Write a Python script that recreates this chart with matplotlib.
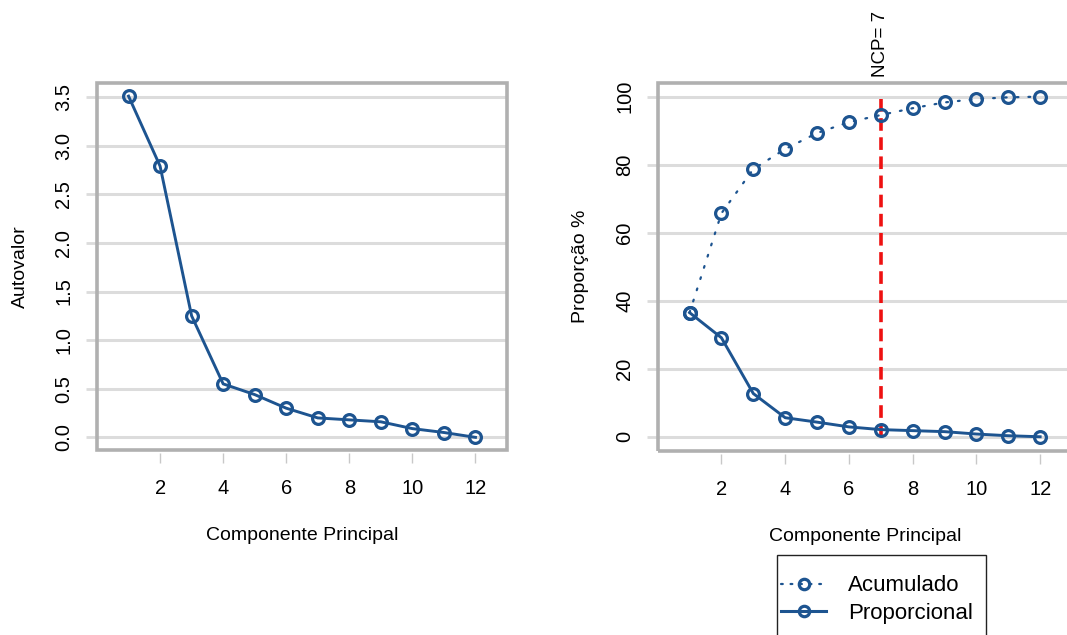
import matplotlib
matplotlib.use("Agg")
import matplotlib.pyplot as plt
from matplotlib.patches import Rectangle
from matplotlib.lines import Line2D

# ---- data ----
componentes = list(range(1, 13))
autovalores = [3.51, 2.79, 1.25, 0.55, 0.44, 0.30, 0.20, 0.18, 0.16, 0.09, 0.05, 0.0]
proporcional = [36.5, 29.1, 12.7, 5.6, 4.3, 2.9, 2.1, 1.8, 1.5, 0.8, 0.3, 0.0]
acumulado = [36.5, 65.7, 78.7, 84.6, 89.3, 92.5, 94.6, 96.6, 98.3, 99.3, 99.8, 100.0]
ncp = 7
xticks = [2, 4, 6, 8, 10, 12]
yticks_left = [0.0, 0.5, 1.0, 1.5, 2.0, 2.5, 3.0, 3.5]
yticks_right = [0, 20, 40, 60, 80, 100]

plt.rcParams['font.family'] = ['Liberation Sans', 'DejaVu Sans']

BLUE = '#1d5490'
GRID = '#dcdcdc'
BOX = '#b0b0b0'
W, H = 1067, 635

fig = plt.figure(figsize=(W / 100, H / 100), dpi=100)


def make_ax(x0, x1, y0, y1):
    return fig.add_axes([x0 / W, 1 - y1 / H, (x1 - x0) / W, (y1 - y0) / H])


def style(ax, yticks, ylim, ylabel, yfmt, lab_x):
    ax.set_xlim(0, 13)
    ax.set_ylim(*ylim)
    for s in ax.spines.values():
        s.set_visible(False)
    ax.spines['bottom'].set_position(('outward', 2.5))
    ax.add_patch(Rectangle((0, 0), 1, 1, transform=ax.transAxes, fill=False,
                           edgecolor=BOX, linewidth=2.6, clip_on=False, zorder=5))
    ax.set_xticks(xticks)
    ax.set_yticks(yticks)
    ax.set_yticklabels([yfmt(v) for v in yticks])
    ax.tick_params(axis='x', direction='out', length=7.5, width=1, color='#c8c8c8',
                   labelsize=14.5, pad=11)
    ax.tick_params(axis='y', direction='out', length=8, width=2, color=GRID,
                   labelsize=14.5, pad=9, labelrotation=90)
    for lab in ax.get_yticklabels():
        lab.set_va('center')
    ax.grid(axis='y', color=GRID, linewidth=2.2, zorder=0)
    ax.grid(axis='x', visible=False)
    ax.set_axisbelow(True)
    ax.set_xlabel('Componente Principal', fontsize=14, labelpad=21)
    ax.set_ylabel(ylabel, fontsize=14)
    ax.yaxis.set_label_coords(lab_x, 0.5)


# ---- left panel ----
ax1 = make_ax(97, 507, 83, 450)
style(ax1, yticks_left, (-0.13, 3.645), 'Autovalor', lambda v: f'{v:.1f}', -0.166)
ax1.plot(componentes, autovalores, color=BLUE, lw=2.1, marker='o', ms=8.5,
         mfc='none', mec=BLUE, mew=2.3, zorder=3)

# ---- right panel ----
ax2 = make_ax(657.7, 1072, 82.7, 450.7)
style(ax2, yticks_right, (-4.1, 104.1), 'Proporção %', lambda v: f'{v:d}', -0.166)
ax2.plot([ncp, ncp], [0, 100], color='#ee1111', lw=2.6,
         linestyle=(0, (3.5, 1.8)), zorder=2)
ax2.plot(componentes, acumulado, color=BLUE, lw=1.6,
         linestyle=(0, (0.8, 4.5)), dash_capstyle='round',
         marker='o', ms=8.5, mfc='none', mec=BLUE, mew=2.3, zorder=3)
ax2.plot(componentes, proporcional, color=BLUE, lw=2.1, marker='o', ms=8.5,
         mfc='none', mec=BLUE, mew=2.3, zorder=3)
ax2.text(ncp, 1.016, f'NCP= {ncp}', transform=ax2.get_xaxis_transform(),
         rotation=90, ha='center', va='bottom', fontsize=13.5)

# ---- legend (frame drawn manually, cut by the figure's lower edge) ----
fig.add_artist(Rectangle((777 / W, -0.05), (986 - 777) / W, 0.05 + (635 - 555) / H,
                         transform=fig.transFigure, fill=False,
                         edgecolor='#222222', linewidth=1.0))
h_acu = Line2D([], [], color=BLUE, lw=1.6, linestyle=(0, (0.8, 3.5)),
               dash_capstyle='round', marker='o', ms=7.5, mfc='none', mec=BLUE, mew=2.3)
h_pro = Line2D([], [], color=BLUE, lw=2.2, marker='o', ms=7.5, mfc='none',
               mec=BLUE, mew=2.3)
fig.legend([h_acu, h_pro], ['Acumulado', 'Proporcional'],
           loc='upper left', bbox_to_anchor=(777 / W, 1 - 571 / H),
           frameon=False, fontsize=16,
           handlelength=2.0, handletextpad=1.0, labelspacing=0.3,
           borderpad=0.2, borderaxespad=0, numpoints=1)

fig.savefig('out.png', dpi=100)
